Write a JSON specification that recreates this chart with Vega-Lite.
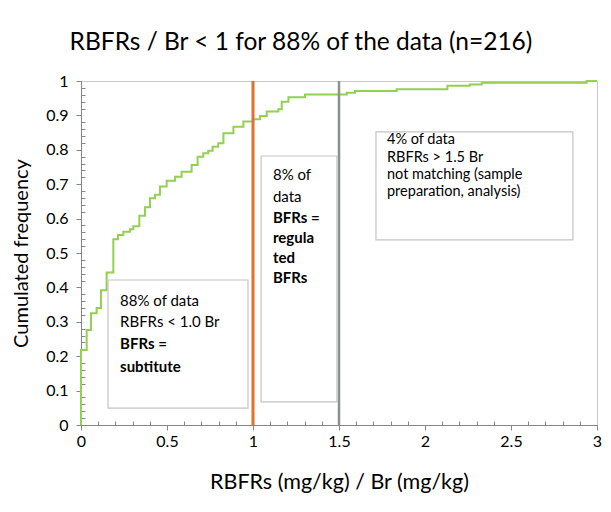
{
  "$schema": "https://vega.github.io/schema/vega-lite/v6.json",
  "width": 516,
  "height": 344,
  "autosize": "none",
  "padding": {"left": 81, "top": 81, "right": 14, "bottom": 87},
  "background": "white",
  "title": {"text": "RBFRs / Br < 1 for 88% of the data (n=216)", "font": "Lato", "fontSize": 24.5, "fontWeight": "normal", "color": "#000000", "offset": 18, "dx": -38},
  "config": {
    "view": {"stroke": "#c8c8c8", "strokeWidth": 1},
    "axis": {"domainColor": "#868686", "tickColor": "#868686", "labelFont": "Lato", "labelFontSize": 16, "labelColor": "#000000", "titleFont": "Lato", "titleFontSize": 21.5, "titleFontWeight": "normal", "titleColor": "#000000", "grid": false, "labelOverlap": false, "labelBound": false, "labelFlush": false, "tickCount": 100}
  },
  "datasets": {
    "curve": [
      {"x": 0, "y": 0},
      {"x": 0, "y": 0.218},
      {"x": 0.033, "y": 0.276},
      {"x": 0.058, "y": 0.325},
      {"x": 0.091, "y": 0.34},
      {"x": 0.116, "y": 0.392},
      {"x": 0.149, "y": 0.443},
      {"x": 0.188, "y": 0.54},
      {"x": 0.215, "y": 0.552},
      {"x": 0.246, "y": 0.562},
      {"x": 0.285, "y": 0.569},
      {"x": 0.304, "y": 0.578},
      {"x": 0.339, "y": 0.608},
      {"x": 0.372, "y": 0.633},
      {"x": 0.401, "y": 0.659},
      {"x": 0.43, "y": 0.669},
      {"x": 0.459, "y": 0.693},
      {"x": 0.498, "y": 0.71},
      {"x": 0.547, "y": 0.722},
      {"x": 0.585, "y": 0.736},
      {"x": 0.643, "y": 0.756},
      {"x": 0.678, "y": 0.78},
      {"x": 0.711, "y": 0.79},
      {"x": 0.74, "y": 0.797},
      {"x": 0.765, "y": 0.809},
      {"x": 0.798, "y": 0.819},
      {"x": 0.828, "y": 0.848},
      {"x": 0.886, "y": 0.867},
      {"x": 0.944, "y": 0.882},
      {"x": 1.002, "y": 0.889},
      {"x": 1.041, "y": 0.898},
      {"x": 1.08, "y": 0.911},
      {"x": 1.147, "y": 0.918},
      {"x": 1.167, "y": 0.94},
      {"x": 1.206, "y": 0.953},
      {"x": 1.302, "y": 0.961},
      {"x": 1.545, "y": 0.966},
      {"x": 1.593, "y": 0.971},
      {"x": 1.835, "y": 0.976},
      {"x": 2.13, "y": 0.986},
      {"x": 2.26, "y": 0.99},
      {"x": 2.33, "y": 0.995},
      {"x": 2.94, "y": 1.0},
      {"x": 3.0, "y": 1.0}
    ],
    "boxes": [
      {"x1": 0.157, "x2": 0.971, "y1": 0.049, "y2": 0.4215},
      {"x1": 1.047, "x2": 1.488, "y1": 0.067, "y2": 0.782},
      {"x1": 1.715, "x2": 2.86, "y1": 0.538, "y2": 0.852}
    ],
    "notes": [
      {"x": 0.227, "y": 0.36, "text": "88% of data", "emph": false, "box": 1},
      {"x": 0.227, "y": 0.3, "text": "RBFRs < 1.0 Br", "emph": false, "box": 1},
      {"x": 0.227, "y": 0.235, "text": "BFRs =", "emph": true, "box": 1},
      {"x": 0.227, "y": 0.169, "text": "subtitute", "emph": true, "box": 1},
      {"x": 1.116, "y": 0.727, "text": "8% of", "emph": false, "box": 2},
      {"x": 1.116, "y": 0.664, "text": "data", "emph": false, "box": 2},
      {"x": 1.116, "y": 0.602, "text": "BFRs =", "emph": true, "box": 2},
      {"x": 1.116, "y": 0.544, "text": "regula", "emph": true, "box": 2},
      {"x": 1.116, "y": 0.486, "text": "ted", "emph": true, "box": 2},
      {"x": 1.116, "y": 0.427, "text": "BFRs", "emph": true, "box": 2},
      {"x": 1.779, "y": 0.8285, "text": "4% of data", "emph": false, "box": 3},
      {"x": 1.779, "y": 0.7776, "text": "RBFRs > 1.5  Br", "emph": false, "box": 3},
      {"x": 1.779, "y": 0.7267, "text": "not matching (sample", "emph": false, "box": 3},
      {"x": 1.779, "y": 0.6759, "text": "preparation, analysis)", "emph": false, "box": 3}
    ]
  },
  "layer": [
    {
      "data": {"name": "curve"},
      "mark": {"type": "line", "interpolate": "step-after", "color": "#92D050", "strokeWidth": 2},
      "encoding": {
        "x": {"field": "x", "type": "quantitative", "scale": {"domain": [0, 3], "nice": false},
          "axis": {"title": "RBFRs (mg/kg) / Br (mg/kg)", "titlePadding": 22, "tickCount": 100,
            "values": [0,0.1,0.2,0.3,0.4,0.5,0.6,0.7,0.8,0.9,1,1.1,1.2,1.3,1.4,1.5,1.6,1.7,1.8,1.9,2,2.1,2.2,2.3,2.4,2.5,2.6,2.7,2.8,2.9,3],
            "labelExpr": "abs(datum.value*2 - round(datum.value*2)) < 0.001 ? format(datum.value, '~g') : ''",
            "tickSize": {"condition": {"test": "abs(datum.value*2 - round(datum.value*2)) < 0.001", "value": 5}, "value": -4},
            "labelPadding": 3}},
        "y": {"field": "y", "type": "quantitative", "scale": {"domain": [0, 1], "nice": false},
          "axis": {"title": "Cumulated frequency", "titlePadding": 14, "titleFontSize": 20, "tickCount": 100,
            "values": [0,0.02,0.04,0.06,0.08,0.1,0.12,0.14,0.16,0.18,0.2,0.22,0.24,0.26,0.28,0.3,0.32,0.34,0.36,0.38,0.4,0.42,0.44,0.46,0.48,0.5,0.52,0.54,0.56,0.58,0.6,0.62,0.64,0.66,0.68,0.7,0.72,0.74,0.76,0.78,0.8,0.82,0.84,0.86,0.88,0.9,0.92,0.94,0.96,0.98,1],
            "labelExpr": "abs(datum.value*10 - round(datum.value*10)) < 0.001 ? format(datum.value, '~g') : ''",
            "tickSize": {"condition": {"test": "abs(datum.value*10 - round(datum.value*10)) < 0.001", "value": 5}, "value": -4},
            "labelPadding": 8}},
        "order": [{"field": "x", "type": "quantitative"}, {"field": "y", "type": "quantitative"}]
      }
    },
    {
      "data": {"values": [{"ratio": 1}]},
      "mark": {"type": "rule", "color": "#E2702F", "strokeWidth": 3},
      "encoding": {"x": {"field": "ratio", "type": "quantitative"}}
    },
    {
      "data": {"values": [{"ratio": 1.5}]},
      "mark": {"type": "rule", "color": "#8A928E", "strokeWidth": 2.5},
      "encoding": {"x": {"field": "ratio", "type": "quantitative"}}
    },
    {
      "data": {"name": "boxes"},
      "mark": {"type": "rect", "fill": "white", "stroke": "#c4c4c4", "strokeWidth": 1.2},
      "encoding": {
        "x": {"field": "x1", "type": "quantitative"},
        "x2": {"field": "x2"},
        "y": {"field": "y1", "type": "quantitative"},
        "y2": {"field": "y2"}
      }
    },
    {
      "data": {"name": "notes"},
      "transform": [{"filter": "!datum.emph && datum.box < 3"}],
      "mark": {"type": "text", "align": "left", "baseline": "middle", "font": "Lato", "fontSize": 15, "color": "#000000"},
      "encoding": {
        "x": {"field": "x", "type": "quantitative"},
        "y": {"field": "y", "type": "quantitative"},
        "text": {"field": "text"}
      }
    },
    {
      "data": {"name": "notes"},
      "transform": [{"filter": "datum.box == 3"}],
      "mark": {"type": "text", "align": "left", "baseline": "middle", "font": "Lato", "fontSize": 14.5, "color": "#000000"},
      "encoding": {
        "x": {"field": "x", "type": "quantitative"},
        "y": {"field": "y", "type": "quantitative"},
        "text": {"field": "text"}
      }
    },
    {
      "data": {"name": "notes"},
      "transform": [{"filter": "datum.emph"}],
      "mark": {"type": "text", "align": "left", "baseline": "middle", "font": "Lato", "fontSize": 15, "fontWeight": "bold", "color": "#000000"},
      "encoding": {
        "x": {"field": "x", "type": "quantitative"},
        "y": {"field": "y", "type": "quantitative"},
        "text": {"field": "text"}
      }
    }
  ]
}
